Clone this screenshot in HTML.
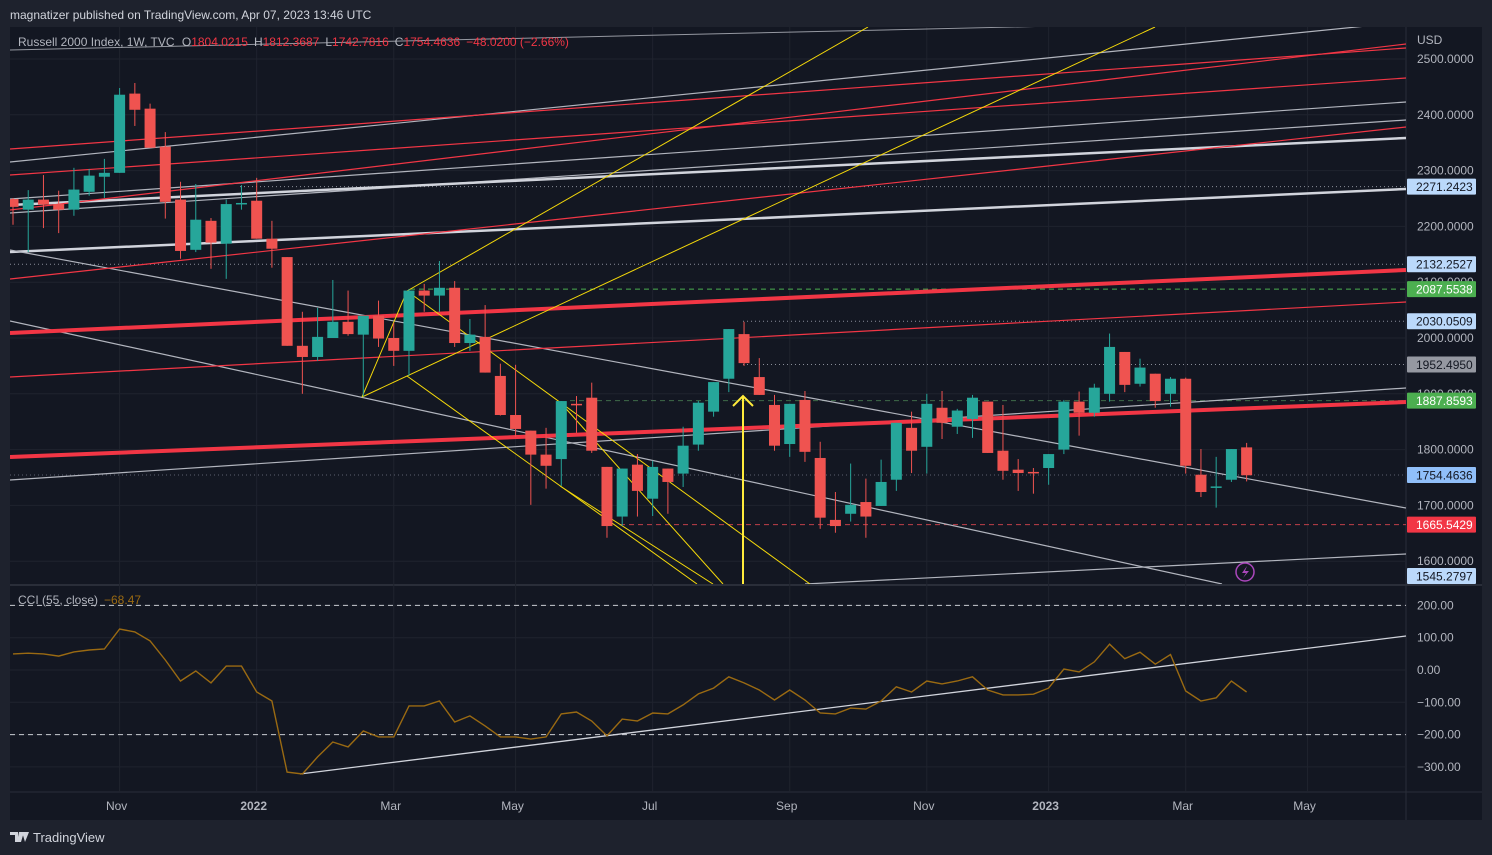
<!DOCTYPE html>
<html><head><meta charset="utf-8">
<style>
html,body{margin:0;padding:0;background:#1e222d;width:1492px;height:855px;overflow:hidden;font-family:"Liberation Sans",sans-serif;}
svg{position:absolute;left:0;top:0;}
</style></head>
<body>
<svg id="chart" width="1492" height="855" xmlns="http://www.w3.org/2000/svg"></svg>
<script>
// ---------- DATA ----------
const candleOpen  = [2249,2230,2248,2240,2230,2262,2289,2296,2438,2411,2343,2248,2158,2210,2169,2240,2246,2178,2145,1986,1966,2000,2029,2006,2040,2000,1977,2085,2076,2090,1991,2002,1932,1862,1834,1791,1783,1882,1893,1769,1680,1773,1712,1766,1757,1809,1868,1927,2007,1930,1880,1810,1889,1785,1674,1685,1706,1699,1746,1839,1805,1875,1841,1855,1886,1798,1764,1760,1767,1800,1886,1866,1900,1975,1918,1936,1900,1927,1755,1733,1746,1804];
const candleHigh  = [2251,2265,2292,2264,2305,2303,2321,2448,2457,2420,2369,2280,2276,2215,2248,2274,2287,2210,2145,2047,2054,2104,2085,2040,2067,2027,2088,2097,2138,2102,2034,2059,1954,1952,1834,1839,1887,1896,1920,1769,1766,1792,1780,1766,1841,1887,1921,2016,2029,1964,1898,1882,1905,1814,1724,1775,1748,1782,1848,1868,1900,1905,1873,1898,1886,1880,1783,1767,1792,1889,1904,1918,2008,1975,1963,1936,1930,1929,1801,1787,1801,1812];
const candleLow   = [2203,2154,2197,2188,2219,2255,2251,2296,2380,2341,2214,2142,2154,2124,2106,2230,2178,2126,1986,1900,1959,2000,2004,1895,1984,1950,1932,2047,2047,1984,1977,1938,1861,1823,1701,1730,1735,1830,1794,1642,1663,1680,1681,1685,1733,1798,1859,1903,1950,1898,1798,1787,1778,1658,1651,1671,1642,1699,1726,1758,1757,1819,1828,1821,1794,1746,1726,1721,1737,1792,1825,1859,1886,1903,1913,1875,1877,1757,1715,1696,1742,1743];
const candleClose = [2235,2248,2239,2230,2266,2291,2296,2436,2409,2341,2244,2156,2212,2171,2240,2242,2178,2160,1986,1966,2002,2029,2007,2040,1999,1977,2085,2076,2090,1991,2006,1938,1862,1837,1791,1771,1887,1881,1798,1663,1766,1726,1769,1742,1807,1884,1921,2016,1955,1898,1807,1882,1796,1678,1663,1701,1680,1742,1848,1798,1882,1848,1870,1893,1794,1762,1758,1758,1792,1886,1866,1911,1984,1916,1947,1887,1927,1771,1724,1734,1801,1754];
const cciValues = [50,52,50,43,56,62,65,127,118,90,31,-34,-3,-40,12,12,-68,-96,-316,-322,-269,-223,-238,-189,-207,-207,-111,-111,-96,-161,-142,-173,-207,-207,-214,-207,-136,-130,-158,-204,-152,-158,-133,-136,-108,-74,-56,-21,-40,-62,-93,-62,-93,-133,-136,-118,-121,-96,-52,-68,-34,-43,-34,-21,-62,-77,-77,-75,-56,3,-6,25,80,35,55,18,48,-65,-96,-86,-34,-68];
const priceTicks = [2500,2400,2300,2200,2100,2000,1900,1800,1700,1600];
const cciTicks = [200,100,0,-100,-200,-300];
const monthLabels = ["Nov","2022","Mar","May","Jul","Sep","Nov","2023","Mar","May"];
const monthIndex = [7,16,25,33,42,51,60,68,77,85];
const priceTags = [[2271.2423,"#bbd9fb","#131722"],[2132.2527,"#bbd9fb","#131722"],[2087.5538,"#4caf50","#ffffff"],[2030.0509,"#bbd9fb","#131722"],[1952.4950,"#9598a1","#131722"],[1887.8593,"#4caf50","#ffffff"],[1754.4636,"#90bff9","#131722"],[1665.5429,"#f23645","#ffffff"],[1545.2797,"#bbd9fb","#131722"]];

// ---------- SCALES ----------
const X0=13, DX=15.23;
const xi = i => X0 + i*DX;
const yP = p => 59 + (2500-p)*0.558;
const yC = v => 670 - v*0.323;

const NS="http://www.w3.org/2000/svg";
const svg=document.getElementById('chart');
function el(tag,attrs,parent){const e=document.createElementNS(NS,tag);for(const k in attrs)e.setAttribute(k,attrs[k]);(parent||svg).appendChild(e);return e;}
function txt(x,y,s,attrs,parent){const t=el('text',Object.assign({x:x,y:y},attrs),parent);t.textContent=s;return t;}

// panel backgrounds
let r=el('rect',{x:10,y:27,width:1472,height:793,fill:'#131722'});


el('line',{x1:10,y1:585,x2:1482,y2:585,stroke:'#2a2e39','stroke-width':2});
el('line',{x1:10,y1:792,x2:1482,y2:792,stroke:'#2a2e39','stroke-width':1});
el('line',{x1:1406,y1:27,x2:1406,y2:820,stroke:'#2a2e39','stroke-width':1});

// grid
const grid=el('g',{stroke:'#1f232e','stroke-width':1});


monthIndex.forEach(i=>{el('line',{x1:xi(i),y1:27,x2:xi(i),y2:792},grid);});
priceTicks.forEach(p=>{el('line',{x1:10,y1:yP(p),x2:1406,y2:yP(p)},grid);});
cciTicks.forEach(v=>{el('line',{x1:10,y1:yC(v),x2:1406,y2:yC(v)},grid);});

// main pane clip
el('clipPath',{id:'mainclip'});
const cp=el('rect',{x:10,y:27,width:1396,height:557},document.getElementById('mainclip'));
const drawings=el('g',{'clip-path':'url(#mainclip)'});



function seg(x1,y1,x2,y2,color,w,dash,name){const l=el('line',{x1,y1,x2,y2,stroke:color,'stroke-width':w,'stroke-dasharray':dash||'none'},drawings);


return l;}
// horizontal levels
seg(240,yP(2271.24),1406,yP(2271.24),'#8a8e99',1,'1 3','level-2271');
seg(10,yP(2132.25),1406,yP(2132.25),'#8a8e99',1,'1 3','level-2132');
seg(410,yP(2087.55),1406,yP(2087.55),'#4caf50',1,'5 4','level-2087');
seg(743,yP(2030.05),1406,yP(2030.05),'#8a8e99',1,'1 3','level-2030');
seg(743,yP(1952.50),1406,yP(1952.50),'#8a8e99',1,'1 3','level-1952');
seg(570,yP(1887.86),1406,yP(1887.86),'#3f6b4a',1,'5 4','level-1887');
seg(10,yP(1754.46),1406,yP(1754.46),'#5d6170',1,'1 3','last-price-line');
seg(620,yP(1665.54),1406,yP(1665.54),'#c0404a',1,'5 4','level-1665');
// grey trendlines
seg(10,50,1406,18,'#9598a1',1,null,'trendline-grey-1');
seg(10,162,1406,22,'#b2b5be',1.2,null,'trendline-grey-2');
seg(10,199,1406,102,'#b2b5be',1.2,null,'trendline-grey-3');
seg(10,213,1406,120,'#b2b5be',1.2,null,'trendline-grey-4');
seg(10,205,1406,138,'#d1d4dc',2.5,null,'trendline-white-thick-1');
seg(10,252,1406,189,'#d1d4dc',2.5,null,'trendline-white-thick-2');
seg(10,250,1406,508,'#b2b5be',1.2,null,'trendline-descending-1');
seg(10,321,1222,584,'#b2b5be',1.2,null,'trendline-descending-2');
seg(10,480,1406,388,'#b2b5be',1.2,null,'trendline-grey-5');
seg(805,584,1406,554,'#b2b5be',1.2,null,'trendline-grey-6');
// red trendlines
seg(10,149,1406,48,'#f23645',1.2,null,'trendline-red-1');
seg(10,175,1406,78,'#f23645',1.2,null,'trendline-red-2');
seg(10,210,1406,44,'#f23645',1.2,null,'trendline-red-3');
seg(10,279,1406,127,'#f23645',1.2,null,'trendline-red-4');
seg(10,377,1406,302,'#f23645',1.2,null,'trendline-red-5');
seg(10,333,1406,270,'#f23645',4,null,'trendline-red-thick-1');
seg(10,457,1406,402,'#f23645',4,null,'trendline-red-thick-2');
// yellow lines
seg(407,291,868,27,'#f5d90a',1,null,'yellow-line-1');
seg(362,397,1155,27,'#f5d90a',1,null,'yellow-line-2');
seg(362,397,407,291,'#f5d90a',1,null,'yellow-line-3');
seg(407,291,810,584,'#f5d90a',1,null,'yellow-line-4');
seg(407,376,697,584,'#f5d90a',1,null,'yellow-line-5');
seg(560,402,723,584,'#f5d90a',1,null,'yellow-line-6');
seg(560,486,713,584,'#f5d90a',1,null,'yellow-line-7');
seg(743,584,743,396,'#ffeb3b',2,null,'yellow-arrow');
let ah=el('polyline',{points:'733,406 743,396 753,406',fill:'none',stroke:'#ffeb3b','stroke-width':2},drawings);



// candles
const cg=el('g',{},drawings);


for(let i=0;i<candleOpen.length;i++){
  const o=candleOpen[i],h=candleHigh[i],l=candleLow[i],c=candleClose[i];
  const col=c>=o?'#26a69a':'#ef5350';
  const x=xi(i);
  const g=el('g',{},cg);
  
  
  el('line',{x1:x,y1:yP(h),x2:x,y2:yP(l),stroke:col,'stroke-width':1},g);
  const top=Math.min(yP(o),yP(c)),bh=Math.max(1.5,Math.abs(yP(o)-yP(c)));
  el('rect',{x:x-5.5,y:top,width:11,height:bh,fill:col},g);
}
// lightning icon
let li=el('g',{});


el('circle',{cx:1245,cy:572,r:9,fill:'none',stroke:'#ab47bc','stroke-width':1.5},li);
el('path',{d:'M1247,566 L1242,573 L1246,573 L1243,578 L1249,571 L1245,571 Z',fill:'#ab47bc'},li);

// CCI pane
const cc=el('g',{});


let b1=el('line',{x1:10,y1:yC(200),x2:1406,y2:yC(200),stroke:'#c9cbd1','stroke-width':1,'stroke-dasharray':'5 4'},cc);


let b2=el('line',{x1:10,y1:yC(-200),x2:1406,y2:yC(-200),stroke:'#c9cbd1','stroke-width':1,'stroke-dasharray':'5 4'},cc);


let ctl=el('line',{x1:300,y1:774,x2:1406,y2:636,stroke:'#d1d4dc','stroke-width':1.3},cc);


let pts=cciValues.map((v,i)=>xi(i).toFixed(1)+','+yC(v).toFixed(1)).join(' ');
let cl=el('polyline',{points:pts,fill:'none',stroke:'#9a6a12','stroke-width':1.4},cc);


let ct=txt(18,604,'CCI (55, close)',{fill:'#b2b5be','font-size':12},cc);


let cv=txt(104,604,'−68.47',{fill:'#9a6a12','font-size':12},cc);



// price axis
const ax=el('g',{'font-size':12,fill:'#b2b5be'});


txt(1417,44,'USD',{},ax);
priceTicks.forEach(p=>{txt(1417,yP(p)+4,p.toFixed(4),{},ax);});
cciTicks.forEach(v=>{txt(1417,yC(v)+4,(v<0?'−':'')+Math.abs(v).toFixed(2),{},ax);});
priceTags.forEach(t=>{const y=Math.min(yP(t[0]),576);
  const g=el('g',{},ax);
  
  
  el('rect',{x:1407,y:y-8,width:69,height:16,fill:t[1],rx:1},g);
  txt(1416,y+4.5,t[0].toFixed(4),{fill:t[2]},g);});

// time axis
const tx=el('g',{'font-size':12,fill:'#b2b5be','text-anchor':'middle'});


monthLabels.forEach((m,k)=>{txt(xi(monthIndex[k])-3,810,m,{'font-weight':(m=='2022'||m=='2023')?'bold':'normal'},tx);});

// header
let h1=txt(10,19,'magnatizer published on TradingView.com, Apr 07, 2023 13:46 UTC',{fill:'#d1d4dc','font-size':12});


const lg=el('text',{x:18,y:46,'font-size':12,fill:'#b2b5be'});


lg.innerHTML='Russell 2000 Index, 1W, TVC <tspan dx="4">O</tspan><tspan fill="#f23645">1804.0215</tspan><tspan dx="6">H</tspan><tspan fill="#f23645">1812.3687</tspan><tspan dx="6">L</tspan><tspan fill="#f23645">1742.7816</tspan><tspan dx="6">C</tspan><tspan fill="#f23645">1754.4636</tspan><tspan dx="6" fill="#f23645">−48.0200 (−2.66%)</tspan>';

// footer logo
const ft=el('g',{});


el('path',{d:'M10,832 L18,832 L18,842 L15,842 L15,835 L10,835 Z M19,832 L24,832 L21,842 L17,842 Z M22,832 L29,832 L25,842 Z',fill:'#d1d4dc'},ft);
txt(33,842,'TradingView',{fill:'#d1d4dc','font-size':13},ft);
</script>
</body></html>
